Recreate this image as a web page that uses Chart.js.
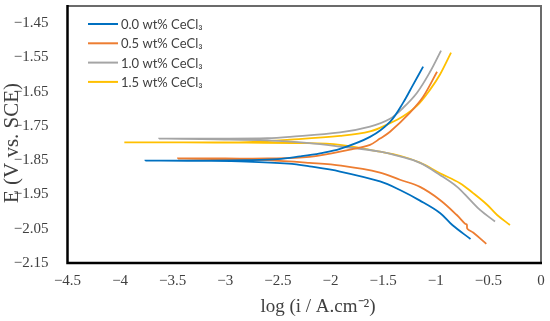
<!DOCTYPE html>
<html>
<head>
<meta charset="utf-8">
<script src="https://cdn.jsdelivr.net/npm/chart.js@4.4.1/dist/chart.umd.min.js"></script>
<style>
  html, body { margin: 0; padding: 0; background: #fff; }
  #wrap { width: 550px; height: 321px; }
</style>
</head>
<body>
<div id="wrap"><canvas id="tafelChart" width="550" height="321"></canvas></div>
<script>
// series labels and colours
const seriesLabels = ['0.0 wt% CeCl\u2083', '0.5 wt% CeCl\u2083', '1.0 wt% CeCl\u2083', '1.5 wt% CeCl\u2083'];
const seriesColors = ['#0070C0', '#ED7D31', '#A5A5A5', '#FFC000'];

// axis ticks and titles
const xTicks = [-4.5, -4, -3.5, -3, -2.5, -2, -1.5, -1, -0.5, 0];
const yTicks = [-2.15, -2.05, -1.95, -1.85, -1.75, -1.65, -1.55, -1.45];
const xTitle = 'log (i / A.cm\u207B\u00B2)';
const yTitle = 'E (V vs. SCE)';

// 0.0 wt% : cathodic branch (right -> left), then anodic branch (left -> right)
const logI_00 = [-0.67, -0.84, -0.96, -1.15, -1.34, -1.53, -1.91, -2.2, -2.4, -2.8, -3.2, -3.76,
                 -3.2, -2.8, -2.5, -2.29, -2.1, -1.91, -1.625, -1.435, -1.31, -1.216, -1.12];
const E_00 = [-2.080, -2.040, -2.004, -1.968, -1.937, -1.912, -1.883, -1.868, -1.860, -1.854, -1.852, -1.851,
              -1.851, -1.850, -1.847, -1.839, -1.830, -1.817, -1.782, -1.738, -1.682, -1.630, -1.577];

// 0.5 wt%
const logI_05 = [-0.52, -0.645, -0.70, -0.705, -0.72, -0.8, -0.96, -1.15, -1.34, -1.53, -1.9, -2.2, -2.6, -3.0, -3.45,
                 -3.0, -2.6, -2.2, -1.815, -1.625, -1.53, -1.435, -1.245, -1.12, -0.988];
const E_05 = [-2.094, -2.061, -2.050, -2.038, -2.036, -2.010, -1.966, -1.928, -1.907, -1.886, -1.866, -1.858, -1.850, -1.847, -1.845,
              -1.845, -1.845, -1.840, -1.819, -1.805, -1.787, -1.767, -1.711, -1.665, -1.592];

// 1.0 wt%
const logI_10 = [-0.437, -0.58, -0.674, -0.8, -0.96, -1.15, -1.34, -1.53, -1.91, -2.2, -2.6, -3.1, -3.63,
                 -3.1, -2.6, -2.385, -1.91, -1.625, -1.435, -1.31, -1.178, -1.054, -0.95];
const E_10 = [-2.029, -1.995, -1.966, -1.927, -1.893, -1.858, -1.839, -1.825, -1.810, -1.800, -1.792, -1.789, -1.787,
              -1.787, -1.786, -1.782, -1.769, -1.752, -1.729, -1.697, -1.653, -1.592, -1.530];

// 1.5 wt%
const logI_15 = [-0.295, -0.417, -0.512, -0.645, -0.77, -0.96, -1.15, -1.34, -1.53, -1.91, -2.3, -2.8, -3.4, -3.96,
                 -3.4, -2.8, -2.385, -1.91, -1.625, -1.435, -1.31, -1.178, -1.054, -0.96, -0.855];
const E_15 = [-2.039, -2.010, -1.980, -1.946, -1.917, -1.888, -1.857, -1.837, -1.825, -1.805, -1.800, -1.799, -1.798, -1.798,
              -1.798, -1.797, -1.790, -1.779, -1.766, -1.742, -1.722, -1.691, -1.644, -1.600, -1.536];

function toPoints(xs, ys) {
    return xs.map((x, i) => ({ x: x, y: ys[i] }));
}

const seriesX = [logI_00, logI_05, logI_10, logI_15];
const seriesY = [E_00, E_05, E_10, E_15];

const fmt = v => (v < 0 ? '\u2212' : '') + Math.abs(v).toString();

// frame around plot area, legend inside the plot, axis titles
const framePlugin = {
    id: 'frameAndLegend',
    afterDatasetsDraw(chart) {
        const { ctx, chartArea: a } = chart;
        ctx.save();
        // top / right : grey
        ctx.strokeStyle = '#6b6b6b';
        ctx.lineWidth = 2;
        ctx.beginPath();
        ctx.moveTo(a.left, a.top);
        ctx.lineTo(a.right, a.top);
        ctx.lineTo(a.right, a.bottom);
        ctx.stroke();
        // left / bottom : black
        ctx.strokeStyle = '#000';
        ctx.lineWidth = 2.5;
        ctx.beginPath();
        ctx.moveTo(a.left, a.top - 1);
        ctx.lineTo(a.left, a.bottom);
        ctx.lineTo(a.right + 1, a.bottom);
        ctx.stroke();

        // legend
        ctx.font = '13px Lato, "Liberation Sans", sans-serif';
        ctx.textBaseline = 'middle';
        chart.data.datasets.forEach((ds, i) => {
            const y = 24 + i * 19.3;
            ctx.strokeStyle = ds.borderColor;
            ctx.lineWidth = 2;
            ctx.beginPath();
            ctx.moveTo(88, y);
            ctx.lineTo(118, y);
            ctx.stroke();
            ctx.fillStyle = '#404040';
            ctx.fillText(ds.label, 121, y + 1);
        });

        // axis titles
        ctx.fillStyle = '#404040';
        ctx.textAlign = 'center';
        ctx.font = '19px "Liberation Serif", serif';
        ctx.fillText(xTitle, 318, 307);
        ctx.translate(12, 143);
        ctx.rotate(-Math.PI / 2);
        ctx.font = '21px "Liberation Serif", serif';
        ctx.fillText(yTitle, 0, 0);
        ctx.restore();
    }
};

const ctx = document.getElementById('tafelChart').getContext('2d');
new Chart(ctx, {
    type: 'scatter',
    data: {
        datasets: seriesLabels.map((label, i) => ({
            label: label,
            data: toPoints(seriesX[i], seriesY[i]),
            showLine: true,
            borderColor: seriesColors[i],
            backgroundColor: seriesColors[i],
            borderWidth: 1.8,
            pointRadius: 0,
            tension: 0.35
        }))
    },
    options: {
        responsive: false,
        animation: false,
        layout: { padding: { top: 6, right: 9, left: 0, bottom: 0 } },
        plugins: {
            legend: { display: false },
            tooltip: { enabled: false }
        },
        scales: {
            x: {
                type: 'linear',
                min: -4.5,
                max: 0,
                afterBuildTicks: s => { s.ticks = xTicks.map(v => ({ value: v })); },
                afterFit: s => { s.height = 58; s.paddingLeft = 0; s.paddingRight = 0; },
                grid: { display: false },
                border: { display: false },
                ticks: {
                    padding: 1,
                    color: '#404040',
                    font: { family: '"Liberation Serif", serif', size: 15 },
                    callback: v => fmt(v)
                }
            },
            y: {
                type: 'linear',
                min: -2.15,
                max: -1.40,
                afterBuildTicks: s => { s.ticks = yTicks.map(v => ({ value: v })); },
                afterFit: s => { s.width = 67.5; s.paddingTop = 0; s.paddingBottom = 0; },
                grid: { display: false },
                border: { display: false },
                ticks: {
                    padding: 11,
                    color: '#404040',
                    font: { family: '"Liberation Serif", serif', size: 15 },
                    callback: v => fmt(v)
                }
            }
        }
    },
    plugins: [framePlugin]
});
</script>
</body>
</html>
